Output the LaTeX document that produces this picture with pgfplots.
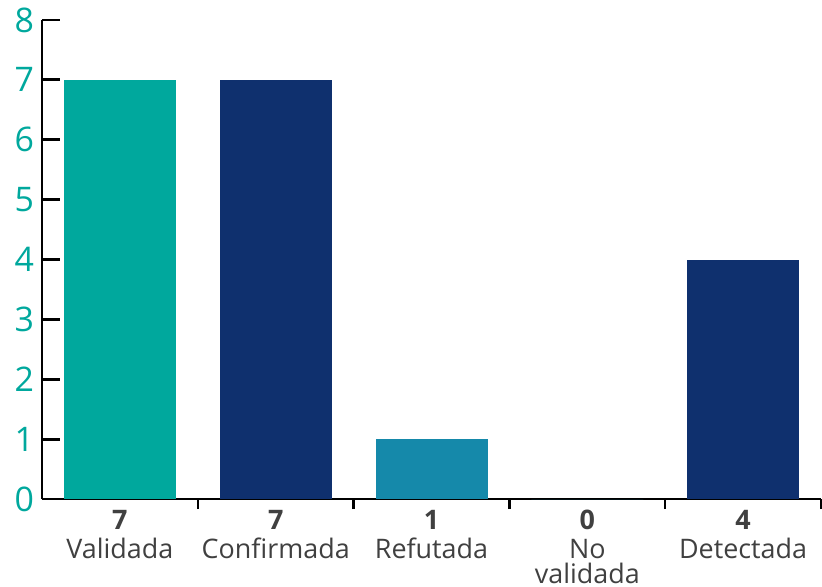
\documentclass[border=0pt]{standalone}
\usepackage{fontspec}
\setmainfont{Open Sans}
\usepackage{pgfplots}
\pgfplotsset{compat=1.18}
\definecolor{cteal}{RGB}{0,168,157}
\definecolor{cnavy}{RGB}{15,48,110}
\definecolor{cblue}{RGB}{21,137,170}
\definecolor{cgray}{RGB}{64,64,64}
\begin{document}
\begin{tikzpicture}
\useasboundingbox (-21bp,-44bp) rectangle (390bp,249.5bp);
\begin{axis}[
  at={(0,0)}, anchor=south west,
  scale only axis, width=389.5bp, height=239.5bp,
  xmin=-0.5, xmax=4.5, ymin=0, ymax=8,
  axis x line*=bottom, axis y line*=left,
  axis line style={line width=1.4bp, black, -},
  ytick={0,...,8},
  xtick={0,1,2,3,4},
  xticklabels={{\textbf{7}\\[1.5bp]Validada},{\textbf{7}\\[1.5bp]Confirmada},{\textbf{1}\\[1.5bp]Refutada},{\textbf{0}\\[1.5bp]No\\[-0.8bp]validada},{\textbf{4}\\[1.5bp]Detectada}},
  minor xtick={0.5,1.5,2.5,3.5,4.5},
  tick align=inside,
  major tick length=9bp,
  minor tick length=5bp,
  x tick style={draw=none},
  minor x tick style={draw=black, line width=1.2bp},
  y tick style={line width=1.4bp, black},
  /pgf/number format/assume math mode=true,
  yticklabel style={font=\fontsize{17}{19}\selectfont, text=cteal, xshift=-0.5bp},
  xticklabel style={font=\fontsize{13.5}{13}\selectfont, text=cgray, align=center, anchor=north, inner sep=0pt, yshift=3.5bp},
  ybar, bar width=56bp, bar shift=0pt,
  clip=false,
]
\addplot[fill=cteal, draw=none] coordinates {(0,7)};
\addplot[fill=cnavy, draw=none] coordinates {(1,7)};
\addplot[fill=cblue, draw=none] coordinates {(2,1)};
\addplot[fill=cblue, draw=none] coordinates {(3,0)};
\addplot[fill=cnavy, draw=none] coordinates {(4,4)};
\end{axis}
\end{tikzpicture}
\end{document}
